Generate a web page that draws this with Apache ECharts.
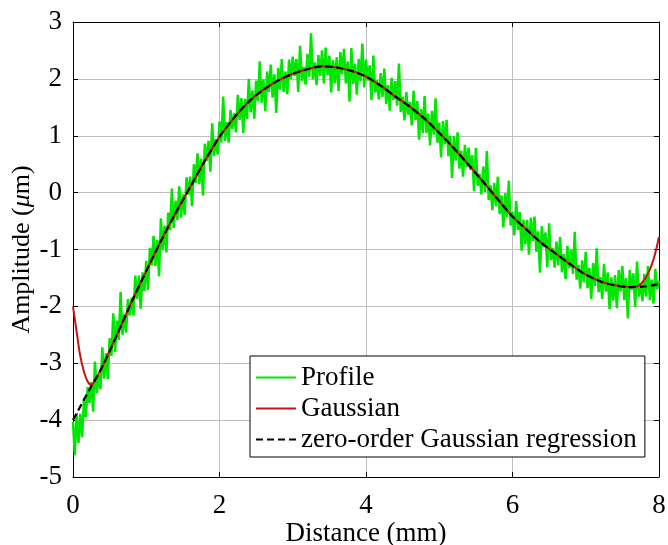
<!DOCTYPE html>
<html>
<head>
<meta charset="utf-8">
<script src="https://cdn.jsdelivr.net/npm/echarts@6/dist/echarts.min.js"></script>
<style>html,body{margin:0;padding:0;background:#fff}#c{width:668px;height:545px}</style>
</head>
<body>
<div id="c"></div>
<script>
const xTicks = [0, 2, 4, 6, 8];
const yTicks = [-5, -4, -3, -2, -1, 0, 1, 2, 3];
const seriesNames = ['Profile', 'Gaussian', 'zero-order Gaussian regression'];

// Measured profile (noisy), sampled every profileStep mm from 0
const profileStart = 0;
const profileStep = 0.025;
const profileY = [
-4.03,-4.62,-3.87,-4.40,-3.89,-4.30,-3.62,-3.95,
-3.42,-3.70,-3.33,-3.85,-2.97,-3.53,-3.21,-3.46,
-2.72,-3.27,-2.82,-3.28,-2.56,-2.87,-2.12,-2.80,
-2.25,-2.59,-1.75,-2.50,-2.14,-2.46,-1.87,-2.16,
-1.85,-2.16,-1.46,-1.87,-1.46,-2.04,-1.40,-1.73,
-1.20,-1.71,-0.97,-1.28,-0.76,-1.29,-0.83,-1.47,
-0.45,-1.01,-0.58,-1.05,-0.35,-0.66,0.07,-0.62,
-0.14,-0.48,0.11,-0.44,-0.03,-0.39,0.27,-0.04,
0.28,-0.24,0.50,0.17,0.69,0.15,0.60,-0.05,
0.86,0.56,0.91,0.37,1.22,0.64,0.94,0.67,
1.25,0.88,1.69,0.91,1.24,0.88,1.45,1.12,
1.40,1.06,1.72,1.28,1.66,1.05,1.65,1.29,
2.00,1.41,1.80,1.30,1.97,1.61,2.31,1.58,
1.99,1.43,2.13,1.77,2.25,1.67,2.08,1.40,
2.19,1.81,2.35,1.77,2.13,1.73,2.34,2.00,
2.39,2.05,2.35,1.77,2.58,1.96,2.21,1.90,
2.44,2.04,2.80,1.99,2.29,1.89,2.42,2.05,
2.50,1.92,2.55,2.06,2.41,1.76,2.33,1.92,
2.38,1.79,2.47,2.08,2.53,1.92,2.31,1.60,
2.54,1.91,2.27,1.72,2.35,1.96,2.62,1.85,
2.34,1.97,2.24,1.63,2.41,1.76,1.98,1.64,
2.10,1.68,2.18,1.56,1.89,1.44,2.02,1.63,
1.96,1.53,2.27,1.42,1.69,1.27,1.77,1.37,
1.59,1.18,1.79,1.28,1.61,0.93,1.47,1.05,
1.70,1.05,1.39,0.83,1.44,1.02,1.66,0.88,
1.23,0.62,1.26,0.85,1.28,0.64,1.00,0.26,
1.00,0.56,1.06,0.42,0.74,0.28,0.84,0.45,
0.79,0.40,0.66,0.03,0.79,0.12,0.33,-0.03,
0.46,0.01,0.73,-0.13,0.13,-0.31,0.17,-0.24,
0.28,-0.38,-0.05,-0.61,-0.01,-0.43,0.21,-0.58,
-0.34,-0.75,-0.15,-0.66,-0.34,-1.02,-0.48,-0.91,
-0.48,-1.09,-0.44,-0.85,-0.42,-1.04,-0.68,-1.41,
-0.59,-0.96,-0.70,-1.31,-0.54,-1.19,-0.97,-1.32,
-0.86,-1.28,-0.78,-1.40,-1.08,-1.52,-0.94,-1.33,
-1.00,-1.43,-0.69,-1.53,-1.27,-1.69,-1.19,-1.58,
-1.04,-1.68,-1.32,-1.87,-1.24,-1.64,-0.98,-1.75,
-1.48,-1.87,-1.25,-1.74,-1.40,-2.05,-1.49,-1.90,
-1.45,-2.03,-1.36,-1.74,-1.29,-1.89,-1.50,-2.21,
-1.36,-1.71,-1.42,-2.01,-1.21,-1.83,-1.59,-1.91,
-1.43,-1.83,-1.29,-1.89,-1.53,-1.95,-1.34,-1.70,
-1.55
];

// Zero-order Gaussian regression
const regX = [0,0.2,0.4,0.6,0.8,1.0,1.2,1.4,1.6,1.8,2.0,2.2,2.4,2.6,2.8,3.0,3.2,3.4,3.6,3.8,4.0,4.2,4.4,4.6,4.8,5.0,5.2,5.4,5.6,5.8,6.0,6.2,6.4,6.6,6.8,7.0,7.2,7.4,7.6,7.8,8.0];
const regY = [-4.00,-3.52,-3.06,-2.50,-1.92,-1.38,-0.85,-0.36,0.10,0.56,0.98,1.32,1.60,1.81,1.97,2.09,2.17,2.22,2.20,2.14,2.04,1.88,1.69,1.51,1.30,1.05,0.78,0.49,0.19,-0.12,-0.42,-0.66,-0.89,-1.08,-1.27,-1.44,-1.56,-1.63,-1.66,-1.65,-1.61];

// Gaussian filter (with end effects)
const gaussX = [0,0.05,0.1,0.15,0.2,0.25,0.3,0.4,0.6,0.8,1.0,1.2,1.4,1.6,1.8,2.0,2.2,2.4,2.6,2.8,3.0,3.2,3.4,3.6,3.8,4.0,4.2,4.4,4.6,4.8,5.0,5.2,5.4,5.6,5.8,6.0,6.2,6.4,6.6,6.8,7.0,7.2,7.4,7.6,7.7,7.75,7.8,7.85,7.9,7.95,8.0];
const gaussY = [-2.00,-2.45,-2.88,-3.15,-3.32,-3.38,-3.30,-3.06,-2.50,-1.92,-1.38,-0.85,-0.36,0.10,0.56,0.98,1.32,1.60,1.81,1.97,2.09,2.17,2.22,2.20,2.14,2.04,1.88,1.69,1.51,1.30,1.05,0.78,0.49,0.19,-0.12,-0.42,-0.66,-0.89,-1.08,-1.27,-1.44,-1.56,-1.63,-1.66,-1.65,-1.61,-1.53,-1.42,-1.27,-1.06,-0.78];

const FONT = 'Liberation Serif';
const profileData = profileY.map((y, i) => [profileStart + i * profileStep, y]);
const regData = regX.map((x, i) => [x, regY[i]]);
const gaussData = gaussX.map((x, i) => [x, gaussY[i]]);

const chart = echarts.init(document.getElementById('c'), null, {renderer: 'canvas'});
const axisCommon = {
  axisLine: {show: true, onZero: false, lineStyle: {color: '#000', width: 1}},
  axisTick: {show: true, inside: true, length: 5, lineStyle: {color: '#000', width: 1}}
};
chart.setOption({
  animation: false,
  backgroundColor: '#fff',
  grid: {left: 73, right: 9, top: 22, bottom: 68, containLabel: false, outerBoundsMode: 'none'},
  xAxis: [
    Object.assign({
      type: 'value', min: 0, max: 8, interval: 2, position: 'bottom',
      name: 'Distance (mm)', nameLocation: 'middle', nameGap: 43, nameMoveOverlap: false,
      nameTextStyle: {fontFamily: FONT, fontSize: 27, color: '#000'},
      axisLabel: {fontFamily: FONT, fontSize: 27, color: '#000', margin: 15,
        formatter: v => xTicks.includes(v) ? String(v) : ''},
      splitLine: {show: true, lineStyle: {color: '#c0c0c0', width: 1}}
    }, axisCommon),
    Object.assign({
      type: 'value', min: 0, max: 8, interval: 2, position: 'top',
      axisLabel: {show: false}, splitLine: {show: false}
    }, axisCommon)
  ],
  yAxis: [
    Object.assign({
      type: 'value', min: -5, max: 3, interval: 1, position: 'left',
      name: 'Amplitude ({i|μ}m)', nameLocation: 'middle', nameGap: 38, nameMoveOverlap: false,
      nameTextStyle: {fontFamily: FONT, fontSize: 26, color: '#000',
        rich: {i: {fontFamily: FONT, fontSize: 26, fontStyle: 'italic', color: '#000'}}},
      axisLabel: {fontFamily: FONT, fontSize: 27, color: '#000', margin: 11,
        formatter: v => yTicks.includes(v) ? String(v) : ''},
      splitLine: {show: true, lineStyle: {color: '#c0c0c0', width: 1}}
    }, axisCommon),
    Object.assign({
      type: 'value', min: -5, max: 3, interval: 1, position: 'right',
      axisLabel: {show: false}, splitLine: {show: false}
    }, axisCommon)
  ],
  legend: {
    orient: 'vertical', left: 250, top: 356,
    data: seriesNames,
    itemWidth: 40, itemHeight: 14, itemGap: 4,
    padding: [8, 8, 4, 5],
    itemStyle: {opacity: 0},
    backgroundColor: '#fff', borderColor: '#000', borderWidth: 1, borderRadius: 0,
    textStyle: {fontFamily: FONT, fontSize: 27, color: '#000', lineHeight: 27}
  },
  series: [
    {name: seriesNames[0], type: 'line', data: profileData, symbol: 'none', showSymbol: false,
      lineStyle: {color: '#00e600', width: 2.5}, itemStyle: {color: '#00e600'}, z: 2},
    {name: seriesNames[1], type: 'line', data: gaussData, symbol: 'none', showSymbol: false, smooth: 0.3,
      lineStyle: {color: '#cc1010', width: 2}, itemStyle: {color: '#cc1010'}, z: 3},
    {name: seriesNames[2], type: 'line', data: regData, symbol: 'none', showSymbol: false, smooth: 0.3,
      lineStyle: {color: '#000', width: 2.2, type: [7, 4]}, itemStyle: {color: '#000'}, z: 4}
  ]
});
</script>
</body>
</html>
